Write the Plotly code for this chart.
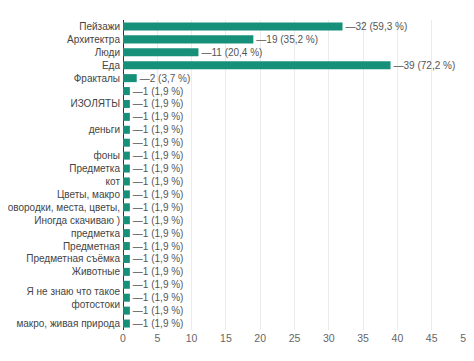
import plotly.graph_objects as go

labels = [
    "Пейзажи", "Архитектра", "Люди", "Еда", "Фракталы", "", "ИЗОЛЯТЫ", "",
    "деньги", "", "фоны", "Предметка", "кот", "Цветы, макро",
    "сковородки, места, цветы,", "Иногда скачиваю )", "предметка", "Предметная",
    "Предметная съёмка", "Животные", "", "Я не знаю что такое<br>фотостоки", "",
    "макро, живая природа",
]
values = [32, 19, 11, 39, 2] + [1] * 19
total = 54
x_ticks = [0, 5, 10, 15, 20, 25, 30, 35, 40, 45, 50]

positions = list(range(len(labels)))
texts = ["—{} ({} %)".format(v, ("%.1f" % (v * 100 / total)).replace(".", ",")) for v in values]

fig = go.Figure(go.Bar(
    x=values, y=positions, orientation="h",
    marker=dict(color="#17907a", line=dict(width=0)),
    text=texts, textposition="outside", cliponaxis=False,
    constraintext="none",
    textfont=dict(size=10, color="#555555"),
    width=0.62,
))

fig.update_layout(
    width=474, height=353,
    margin=dict(l=115, r=16, t=12, b=31),
    paper_bgcolor="white", plot_bgcolor="white",
    font=dict(family="Liberation Sans, Arial, sans-serif", size=10, color="#444444"),
    showlegend=False,
)
fig.update_xaxes(
    range=[0, 50], tickvals=x_ticks, showgrid=True, gridcolor="#ebebeb",
    zeroline=True, zerolinecolor="#333333", zerolinewidth=1,
    tickfont=dict(size=10.5, color="#666666"), ticks="", fixedrange=True,
    automargin=False,
)
fig.update_yaxes(
    tickvals=positions, ticktext=labels, range=[len(labels) - 0.5, -0.5],
    showgrid=False, ticks="", tickfont=dict(size=10, color="#444444"),
    automargin=False, ticklabelstandoff=2,
)
fig.write_html("out.html")
